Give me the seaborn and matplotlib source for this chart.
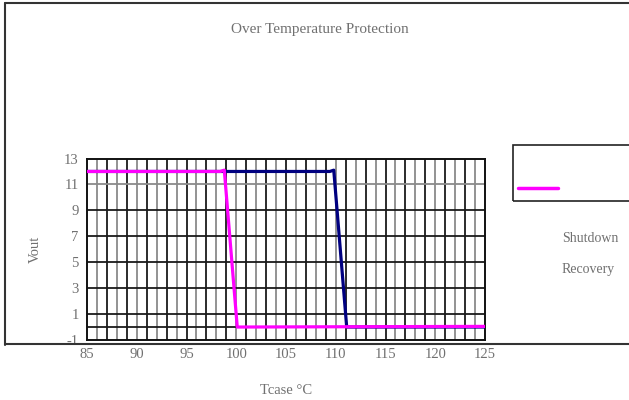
import matplotlib
matplotlib.use("Agg")
import matplotlib.pyplot as plt
import seaborn as sns
import pandas as pd
from matplotlib.lines import Line2D
from matplotlib.patches import Rectangle

# Data
shutdown_t = [85, 109.4, 109.8, 111.1, 125]
shutdown_v = [12.0, 12.0, 12.1, 0.0, 0.0]
recovery_t = [85, 98.4, 98.8, 100.1, 125]
recovery_v = [12.0, 12.0, 12.1, 0.0, 0.05]
series_names = ["Shutdown", "Recovery"]
x_ticks = [85, 90, 95, 100, 105, 110, 115, 120, 125]
y_ticks = [-1, 1, 3, 5, 7, 9, 11, 13]

df = pd.concat([
    pd.DataFrame({"t": shutdown_t, "v": shutdown_v, "s": series_names[0]}),
    pd.DataFrame({"t": recovery_t, "v": recovery_v, "s": series_names[1]}),
])

sns.set_style("white")
plt.rcParams["font.family"] = ["Liberation Serif", "DejaVu Serif"]
plt.rcParams["axes.unicode_minus"] = False
txt_col = "#707070"

fig = plt.figure(figsize=(6.29, 4.0), dpi=100)
ax = fig.add_axes([87/629, 60/400, 398/629, 181.5/400])

# grid
for xv in range(86, 125):
    ax.axvline(xv, color="#1a1a1a" if xv % 2 == 1 else "#8a8a8a", lw=1.3, zorder=1)
for yv in [0, 1, 3, 5, 7, 9, 11]:
    ax.axhline(yv, color="#1a1a1a" if yv != 11 else "#8a8a8a", lw=1.3, zorder=1)

sns.lineplot(data=df, x="t", y="v", hue="s", palette={"Shutdown": "#000080", "Recovery": "#FF00FF"},
             sort=False, estimator=None, lw=2.3, ax=ax, legend=False, zorder=3)

ax.set_xlim(85, 125)
ax.set_ylim(-1, 13)
ax.set_xticks(x_ticks)
ax.set_yticks(y_ticks)
ax.tick_params(axis="both", length=0, labelsize=10.5, labelcolor=txt_col, pad=6)
for sp in ax.spines.values():
    sp.set_visible(True)
    sp.set_color("#111111")
    sp.set_linewidth(1.4)
ax.set_xlabel("Tcase °C", color=txt_col, fontsize=10.5, labelpad=16)
ax.set_ylabel("Vout", color=txt_col, fontsize=10.5, labelpad=16)

fig.text(320/629, 1 - 30/400, "Over Temperature Protection", ha="center", va="center",
         color=txt_col, fontsize=11)

# outer frame (no right edge)
fc = "#333333"
fig.add_artist(Line2D([5/629, 5/629], [1 - 345/400, 1 - 3/400], transform=fig.transFigure, color=fc, lw=1.5))
fig.add_artist(Line2D([5/629, 1], [1 - 3/400, 1 - 3/400], transform=fig.transFigure, color=fc, lw=1.5))
fig.add_artist(Line2D([5/629, 1], [1 - 344/400, 1 - 344/400], transform=fig.transFigure, color=fc, lw=1.5))

# legend box
fig.add_artist(Rectangle((513/629, 1 - 201/400), 120/629, 56/400, transform=fig.transFigure,
                         fill=False, edgecolor="#222222", lw=1.2))
fig.add_artist(Line2D([518/629, 558/629], [1 - 188/400, 1 - 188/400], transform=fig.transFigure,
                      color="#FF00FF", lw=2.5))
fig.text(562/629, 1 - 239/400, series_names[0], ha="left", va="center", color=txt_col, fontsize=10)
fig.text(562/629, 1 - 269/400, series_names[1], ha="left", va="center", color=txt_col, fontsize=10)

fig.savefig("out.png", dpi=100)
